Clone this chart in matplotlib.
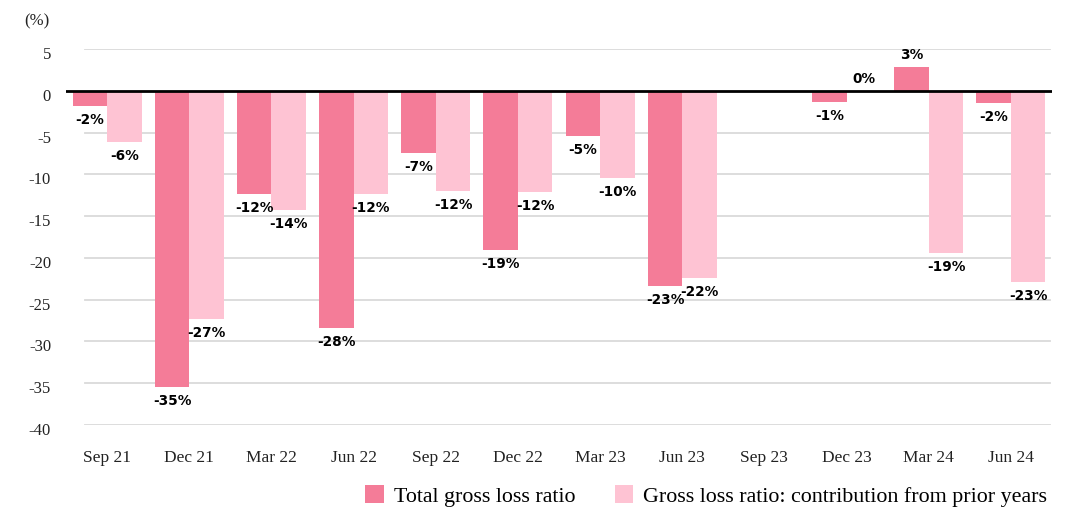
import numpy as np
import matplotlib
matplotlib.use("Agg")
import matplotlib.pyplot as plt
from matplotlib.patches import Patch

# Quarterly gross loss ratio data (%)
quarters = ["Sep 21", "Dec 21", "Mar 22", "Jun 22", "Sep 22", "Dec 22",
            "Mar 23", "Jun 23", "Sep 23", "Dec 23", "Mar 24", "Jun 24"]
total_gross = [-1.8, -35.4, -12.4, -28.4, -7.4, -19.0,
               -5.4, -23.4, np.nan, -1.4, 2.9, -1.5]
prior_years = [-6.1, -27.3, -14.3, -12.4, -12.0, -12.1,
               -10.4, -22.4, np.nan, 0.0, -19.4, -22.9]
y_ticks = [5, 0, -5, -10, -15, -20, -25, -30, -35, -40]
series_names = ["Total gross loss ratio",
                "Gross loss ratio: contribution from prior years"]

DARK = "#F47C98"
LIGHT = "#FEC3D3"
SERIF = ["Liberation Serif", "DejaVu Serif"]

fig = plt.figure(figsize=(10.65, 5.13), dpi=100)
ax = fig.add_axes([66 / 1065, 1 - 425 / 513, 986 / 1065, 376 / 513])

x = np.arange(len(quarters))
w = 0.42

ax.bar(x - w / 2, total_gross, width=w, color=DARK, zorder=2)
ax.bar(x + w / 2, prior_years, width=w, color=LIGHT, zorder=2)

ax.set_xlim(-0.5, len(quarters) - 0.5)
ax.set_ylim(-40, 5)

# horizontal grid; zero line drawn separately
for t in y_ticks:
    if t == 0:
        ax.axhline(0, color="black", lw=2, zorder=3)
    else:
        ax.axhline(t, xmin=0.019, xmax=0.998, color="#dadada", lw=1.3, zorder=1)

for s in ax.spines.values():
    s.set_visible(False)

ax.set_xticks(x)
ax.set_xticklabels(quarters, fontsize=12.5, family=SERIF, color="#222222")
ax.tick_params(axis="x", length=0, pad=18)
ax.set_yticks([])

for t in y_ticks:
    ax.annotate(str(t), xy=(0, t), xycoords=("axes fraction", "data"),
                xytext=(-15, -6), textcoords="offset pixels",
                ha="right", va="center", fontsize=12, family=SERIF,
                color="#222222")
fig.text(37 / 1065, 1 - 21 / 513, "(%)", ha="center", va="center",
         fontsize=12, family=SERIF, color="#222222")


def label_bars(offsets, values):
    for xi, v in zip(x + offsets, values):
        if np.isnan(v):
            continue
        txt = f"{v:.0f}%".replace("-0%", "0%")
        if v >= 0:
            ax.annotate(txt, xy=(xi, v), xytext=(0, 5), textcoords="offset pixels",
                        ha="center", va="bottom", fontsize=9.8,
                        fontweight="bold", family="DejaVu Sans", zorder=4)
        else:
            ax.annotate(txt, xy=(xi, v), xytext=(0, -7), textcoords="offset pixels",
                        ha="center", va="top", fontsize=9.8,
                        fontweight="bold", family="DejaVu Sans", zorder=4)


label_bars(-w / 2, total_gross)
label_bars(w / 2, prior_years)

handles = [Patch(facecolor=DARK, edgecolor="none"),
           Patch(facecolor=LIGHT, edgecolor="none")]
fig.legend(handles, series_names, loc="center", bbox_to_anchor=(706 / 1065, 1 - 496 / 513),
           ncol=2, frameon=False, prop={"family": SERIF, "size": 15.8},
           handlelength=0.86, handleheight=0.83, handletextpad=0.42,
           columnspacing=1.8, borderpad=0, borderaxespad=0)

fig.savefig("out.png", dpi=100)
